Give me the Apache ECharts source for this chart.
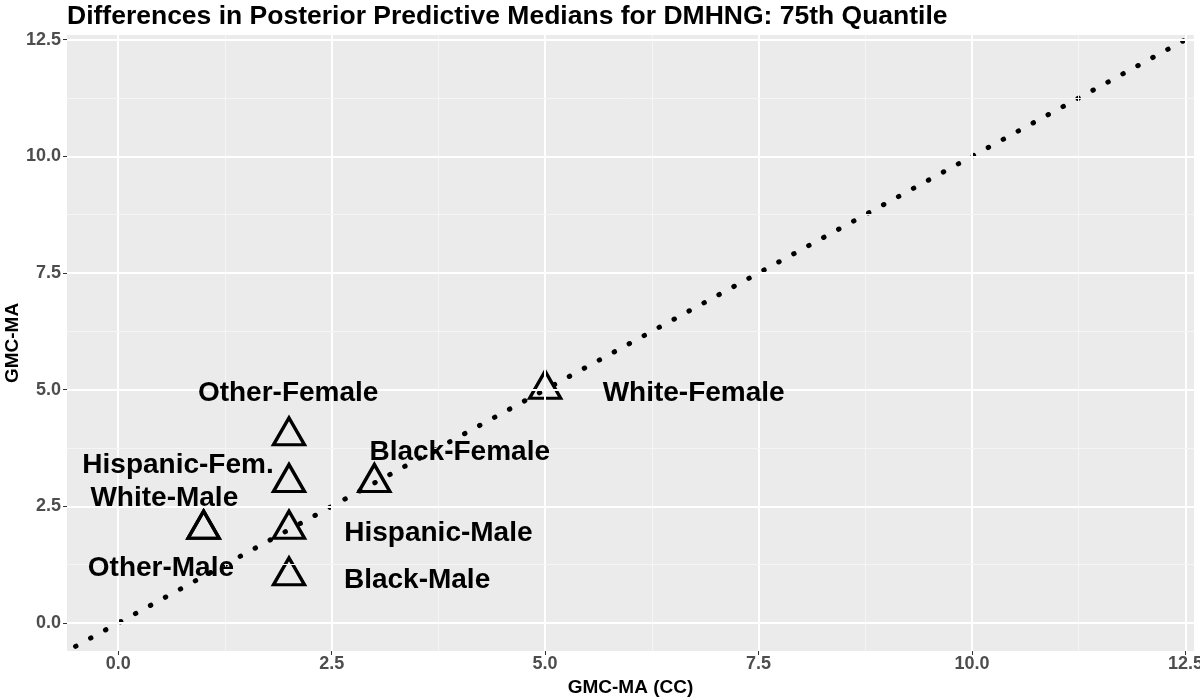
<!DOCTYPE html>
<html>
<head>
<meta charset="utf-8">
<script src="https://cdn.jsdelivr.net/npm/echarts@6/dist/echarts.min.js"></script>
<style>
  html, body { margin: 0; padding: 0; background: #fff; }
  #main { width: 1200px; height: 700px; }
</style>
</head>
<body>
<div id="main"></div>
<script>
// groups, point positions, label positions
var groups = ['White-Female', 'Black-Female', 'Other-Female', 'Hispanic-Fem.',
              'White-Male', 'Hispanic-Male', 'Other-Male', 'Black-Male'];
var ccValues = [5, 3, 2, 2, 1, 2, 1, 2];
var maValues = [5, 3, 4, 3, 2, 2, 2, 1];
var labelX = [6.74, 4.0, 1.99, 0.70, 0.54, 3.75, 0.50, 3.50];
var labelY = [4.97, 3.71, 4.96, 3.43, 2.71, 1.96, 1.21, 0.96];

var majorTicks = [0, 2.5, 5, 7.5, 10, 12.5];
var minorTicks = [1.25, 3.75, 6.25, 8.75, 11.25];
var tickLabels = ['0.0', '2.5', '5.0', '7.5', '10.0', '12.5'];
var refLine = [-0.5, 12.5];   // y = x

var font = 'Liberation Sans, Arial, Helvetica, sans-serif';

var pointData = groups.map(function (g, i) { return [ccValues[i], maValues[i], g]; });
var labelData = groups.map(function (g, i) { return [labelX[i], labelY[i], g]; });

function gridLines(axis) {
  var d = [];
  minorTicks.forEach(function (v) {
    var o = {}; o[axis] = v; o.lineStyle = { width: 1, color: '#F5F5F5', type: 'solid' }; d.push(o);
  });
  majorTicks.forEach(function (v) {
    var o = {}; o[axis] = v; o.lineStyle = { width: 2, color: '#FFFFFF', type: 'solid' }; d.push(o);
  });
  return d;
}

function axisCommon() {
  return {
    type: 'value',
    min: -0.6,
    max: 12.6,
    splitLine: { show: false },
    axisLine: { show: false, onZero: false },
    axisTick: { show: true, customValues: majorTicks, length: 4, lineStyle: { color: '#333333', width: 1 } },
    axisLabel: {
      customValues: majorTicks,
      formatter: function (v) { return tickLabels[majorTicks.indexOf(v)] || ''; },
      color: '#4D4D4D', fontWeight: 'bold', fontSize: 18, fontFamily: font
    },
    nameLocation: 'middle',
    nameTextStyle: { color: '#000', fontWeight: 'bold', fontSize: 19, fontFamily: font }
  };
}

var xAxis = axisCommon();
xAxis.name = 'GMC-MA (CC)';
xAxis.nameGap = 22;
xAxis.axisLabel.margin = 4;
var yAxis = axisCommon();
yAxis.axisLabel.margin = 6;

var option = {
  backgroundColor: '#FFFFFF',
  animation: false,
  title: {
    text: 'Differences in Posterior Predictive Medians for DMHNG: 75th Quantile',
    left: 67, top: 3, padding: 0,
    textStyle: { color: '#000', fontWeight: 'bold', fontSize: 26.5, fontFamily: font }
  },
  grid: {
    left: 67, right: 6, top: 35, bottom: 49,
    outerBoundsMode: 'none',
    show: true, backgroundColor: '#EBEBEB', borderWidth: 0
  },
  graphic: [{
    type: 'text',
    x: 13, y: 343,
    rotation: Math.PI / 2,
    style: {
      text: 'GMC-MA', fill: '#000', font: 'bold 19px ' + font,
      textAlign: 'center', textVerticalAlign: 'middle'
    }
  }],
  xAxis: xAxis,
  yAxis: yAxis,
  series: [
    {
      // panel grid lines
      type: 'line', data: [], silent: true,
      markLine: {
        silent: true, symbol: 'none', label: { show: false }, animation: false,
        data: gridLines('xAxis').concat(gridLines('yAxis'))
      }
    },
    {
      type: 'line',
      data: [[refLine[0], refLine[0]], [refLine[1], refLine[1]]],
      symbol: 'none', silent: true,
      lineStyle: { color: '#000', width: 5, type: [0.5, 16.55], cap: 'round' },
      z: 3
    },
    {
      type: 'scatter',
      data: pointData,
      symbol: 'triangle',
      symbolSize: [31, 27],
      symbolOffset: [0, -5],
      itemStyle: { color: 'rgba(0,0,0,0)', borderColor: '#000', borderWidth: 3.3, opacity: 1 },
      z: 4
    },
    {
      type: 'scatter',
      data: labelData,
      symbolSize: 0,
      itemStyle: { opacity: 1 },
      label: {
        show: true, position: 'inside', offset: [0, 2],
        formatter: function (p) { return p.data[2]; },
        color: '#000', fontWeight: 'bold', fontSize: 28, fontFamily: font
      },
      z: 5
    }
  ]
};

var myChart = echarts.init(document.getElementById('main'));
myChart.setOption(option);
</script>
</body>
</html>
